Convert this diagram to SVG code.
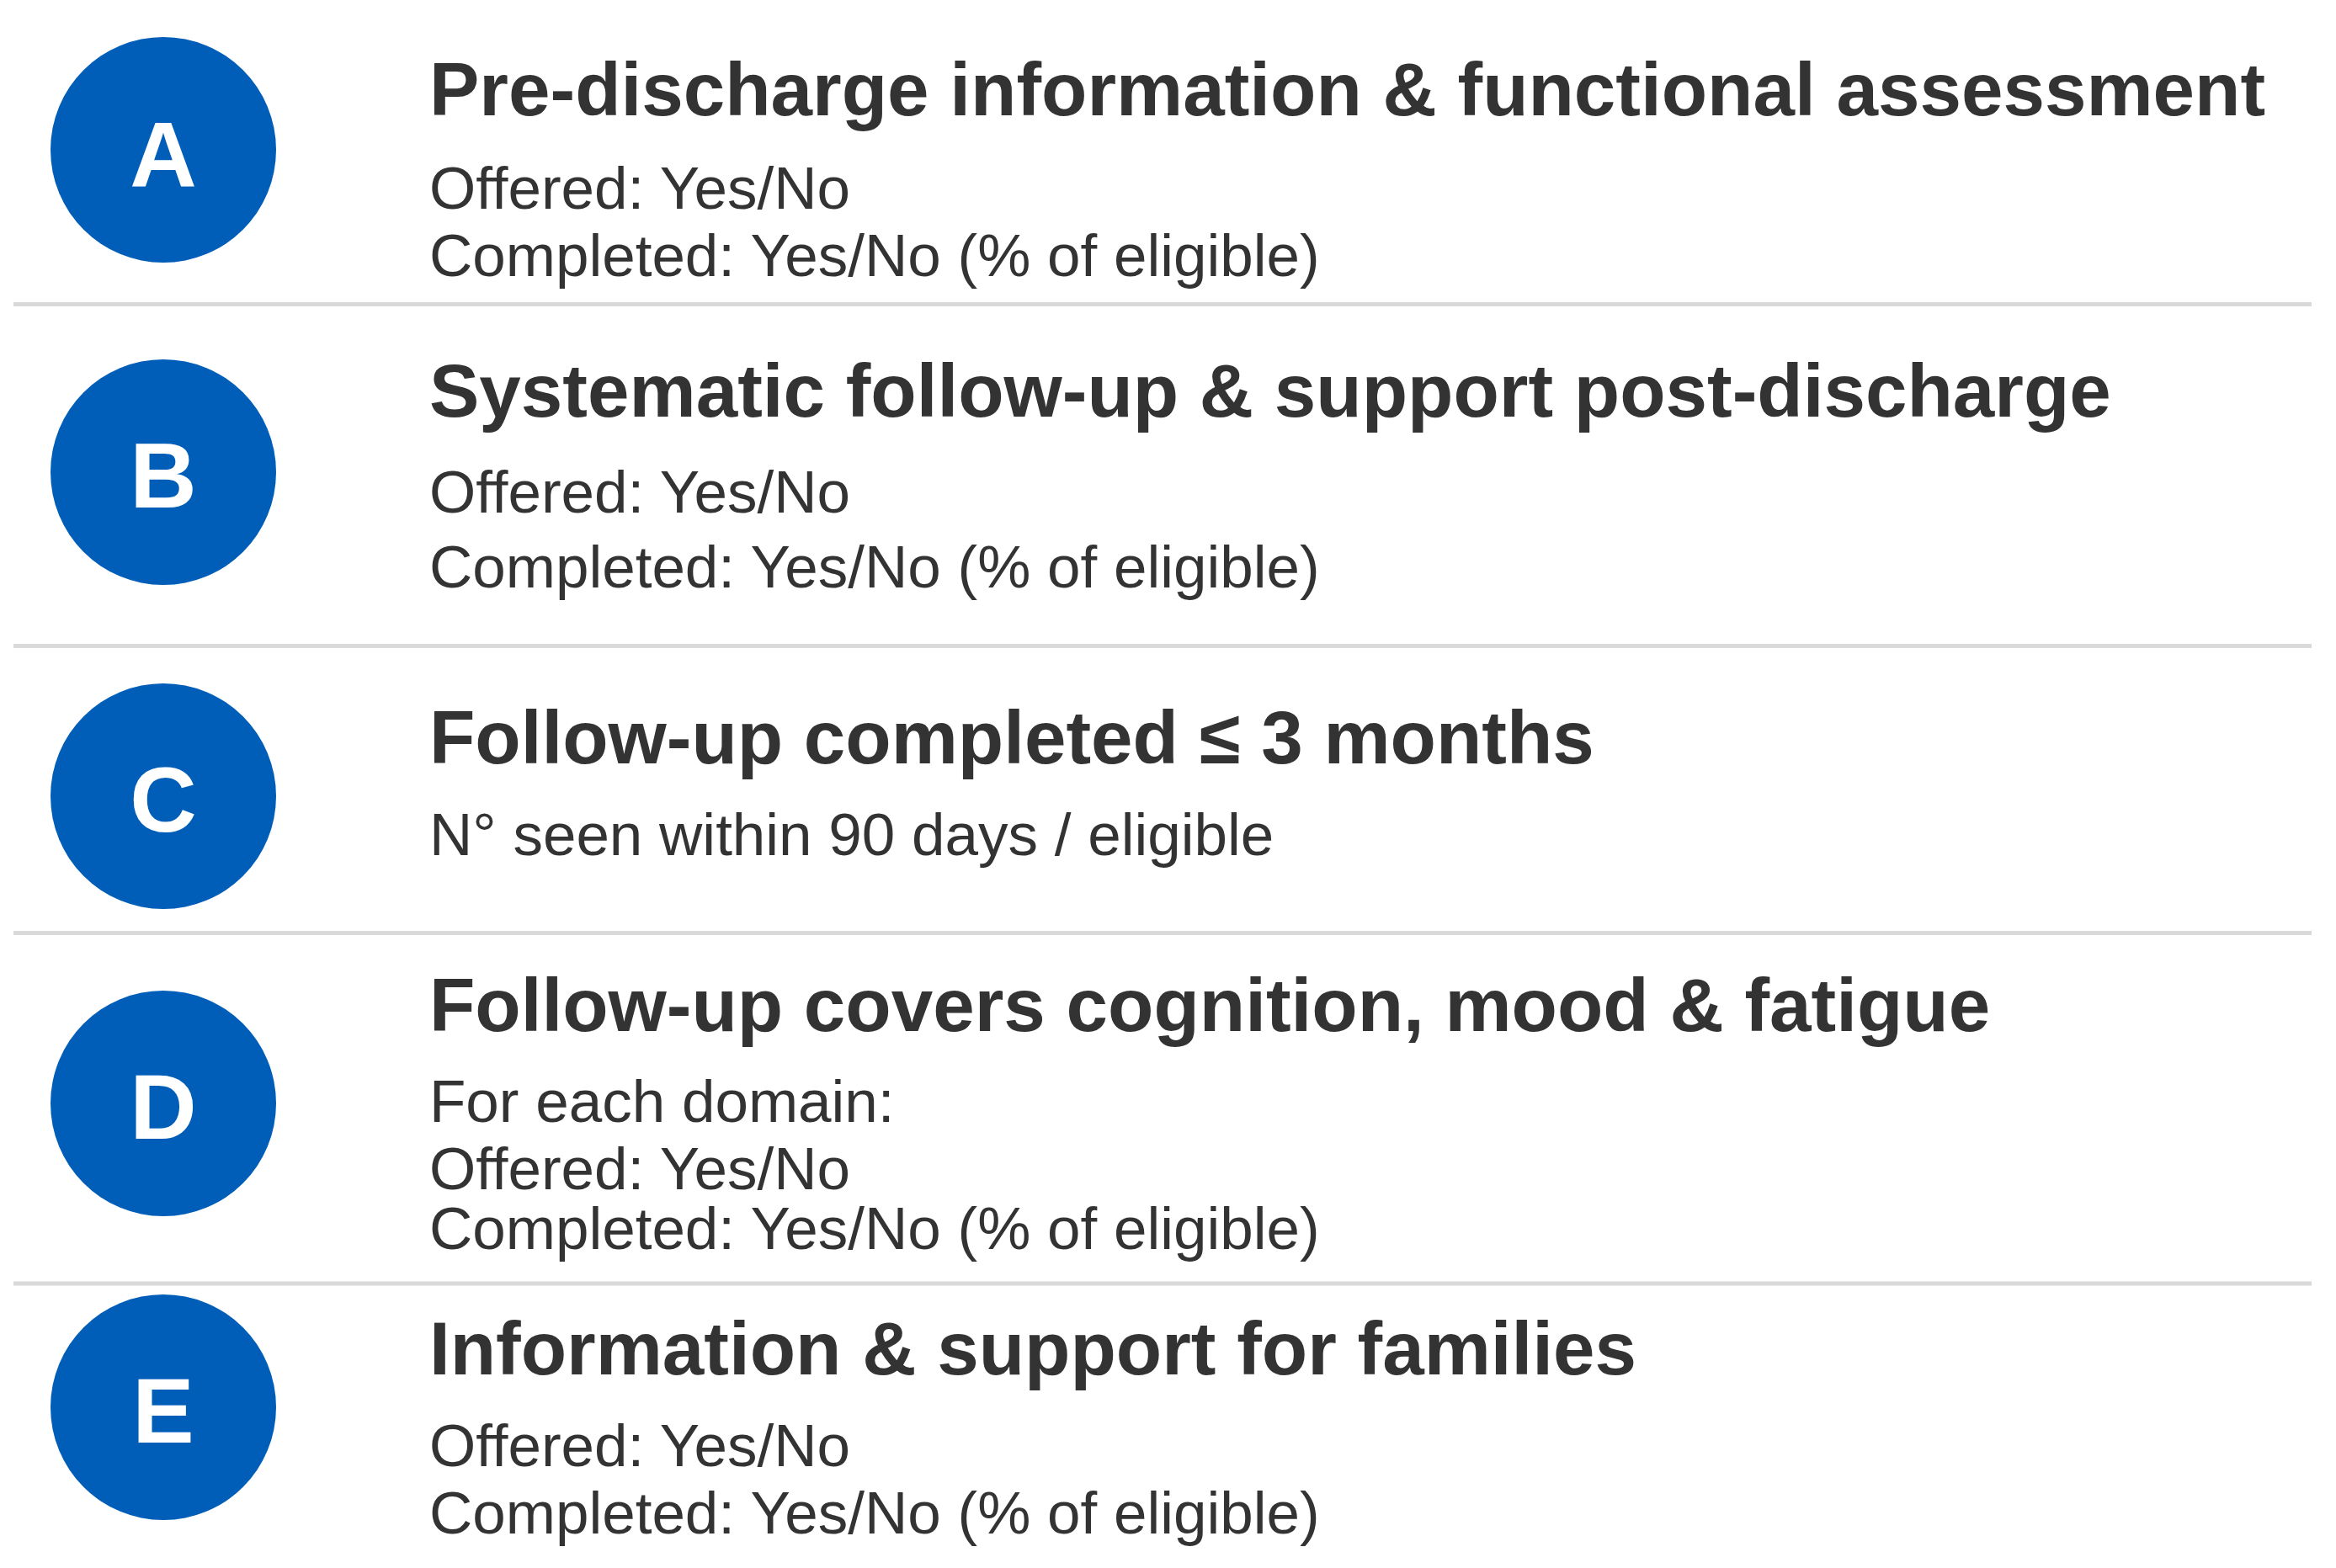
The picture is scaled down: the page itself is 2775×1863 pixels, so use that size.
<svg xmlns="http://www.w3.org/2000/svg" width="2775" height="1863" viewBox="0 0 2775 1863">
<style>
.circ{fill:#005EB8}
.letter{font-family:"Liberation Sans",Arial,sans-serif;font-weight:bold;font-size:110px;fill:#ffffff;text-anchor:middle}
.title{font-family:"Liberation Sans",Arial,sans-serif;font-weight:bold;font-size:89px;fill:#333333}
.body{font-family:"Liberation Sans",Arial,sans-serif;font-size:71px;fill:#333333}
.sep{stroke:#d9d9d9;stroke-width:5;fill:none}
</style>
<rect width="2775" height="1863" fill="#ffffff"/>
<g id="separators">
<line class="sep" x1="16" y1="361.5" x2="2746" y2="361.5"/>
<line class="sep" x1="16" y1="767.5" x2="2746" y2="767.5"/>
<line class="sep" x1="16" y1="1108.5" x2="2746" y2="1108.5"/>
<line class="sep" x1="16" y1="1525" x2="2746" y2="1525"/>
</g>
<g id="node-A">
<circle class="circ" cx="194" cy="178" r="134"/>
<text class="letter" x="194" y="221">A</text>
<text class="title" x="510" y="137">Pre-discharge information &amp; functional assessment</text>
<text class="body" x="510" y="248">Offered: Yes/No</text>
<text class="body" x="510" y="328">Completed: Yes/No (% of eligible)</text>
</g>
<g id="node-B">
<circle class="circ" cx="194" cy="561" r="134"/>
<text class="letter" x="194" y="603">B</text>
<text class="title" x="510" y="495">Systematic follow-up &amp; support post-discharge</text>
<text class="body" x="510" y="609">Offered: Yes/No</text>
<text class="body" x="510" y="698">Completed: Yes/No (% of eligible)</text>
</g>
<g id="node-C">
<circle class="circ" cx="194" cy="946" r="134"/>
<text class="letter" x="194" y="988">C</text>
<text class="title" x="510" y="907">Follow-up completed ≤ 3 months</text>
<text class="body" x="510" y="1016">N° seen within 90 days / eligible</text>
</g>
<g id="node-D">
<circle class="circ" cx="194" cy="1311" r="134"/>
<text class="letter" x="194" y="1353">D</text>
<text class="title" x="510" y="1225">Follow-up covers cognition, mood &amp; fatigue</text>
<text class="body" x="510" y="1333">For each domain:</text>
<text class="body" x="510" y="1413">Offered: Yes/No</text>
<text class="body" x="510" y="1484">Completed: Yes/No (% of eligible)</text>
</g>
<g id="node-E">
<circle class="circ" cx="194" cy="1672" r="134"/>
<text class="letter" x="194" y="1714">E</text>
<text class="title" x="510" y="1633">Information &amp; support for families</text>
<text class="body" x="510" y="1742">Offered: Yes/No</text>
<text class="body" x="510" y="1822">Completed: Yes/No (% of eligible)</text>
</g>
</svg>
